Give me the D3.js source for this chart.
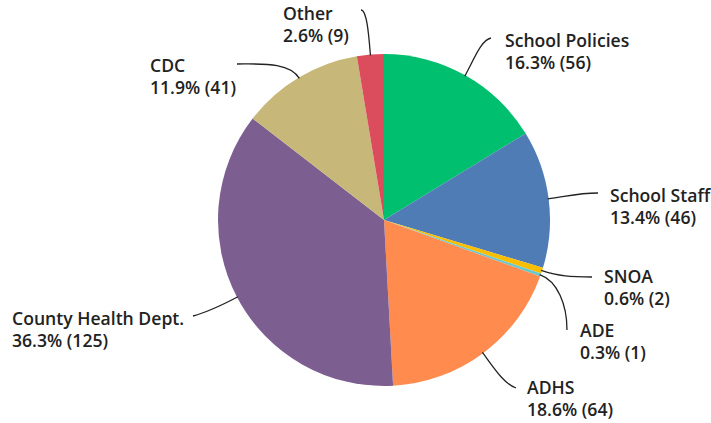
<!DOCTYPE html>
<html>
<head>
<meta charset="utf-8">
<script src="https://cdn.jsdelivr.net/npm/d3@7"></script>
<style>
  body { margin: 0; background: #fff; overflow: hidden; }
  text { font-family: "Open Sans", Roboto, sans-serif; font-weight: 600; fill: #222; }
</style>
</head>
<body>
<svg id="canvas"></svg>
<script>
const width = 711;
const height = 423;

const categories = ["School Policies", "School Staff", "SNOA", "ADE", "ADHS", "County Health Dept.", "CDC", "Other"];
const counts = [56, 46, 2, 1, 64, 125, 41, 9];
const colors = ["#00BF6F", "#507CB6", "#F9BE00", "#6BC8CD", "#FF8B4F", "#7D5E90", "#C7B879", "#DB4D5C"];

// label anchor (text left, first baseline) and leader end / handle, per slice
const labelPos = [[505, 47], [610, 202], [604, 283], [580, 337], [527, 394], [12, 325], [150, 72], [283, 20]];
const leaderEnd = [[491, 38], [598, 193], [592, 277], [567, 330], [516, 388], [193, 316], [237, 64], [361, 10]];
const leaderHandle = [[-10, 2], [-20, 0], [-22, 0], [0, -25], [-12, -4], [15, -4], [25, 0], [6, 0]];

const cx = 384, cy = 220, radius = 166;
const total = d3.sum(counts);

let svg = d3.select("#canvas")
            .attr("width", width)
            .attr("height", height);

const pie = d3.pie().sort(null).value(d => d);
const arcs = pie(counts);
const arc = d3.arc().innerRadius(0).outerRadius(radius);

const g = svg.append("g").attr("transform", `translate(${cx}, ${cy})`);

g.selectAll("path.slice")
 .data(arcs)
 .enter()
 .append("path")
 .attr("class", "slice")
 .attr("d", arc)
 .attr("fill", (d, i) => colors[i]);

// leader lines
const pointAt = (a, r) => [cx + r * Math.sin(a), cy - r * Math.cos(a)];
svg.selectAll("path.leader")
   .data(arcs)
   .enter()
   .append("path")
   .attr("class", "leader")
   .attr("fill", "none")
   .attr("stroke", "#222")
   .attr("stroke-width", 1.3)
   .attr("d", (d, i) => {
       const mid = (d.startAngle + d.endAngle) / 2;
       const p0 = pointAt(mid, radius - 1);
       const p1 = pointAt(mid, radius + 18);
       const e = leaderEnd[i];
       const h = leaderHandle[i];
       const p = d3.path();
       p.moveTo(p0[0], p0[1]);
       p.bezierCurveTo(p1[0], p1[1], e[0] + h[0], e[1] + h[1], e[0], e[1]);
       return p.toString();
   });

// labels
const labels = svg.selectAll("text.label")
   .data(arcs)
   .enter()
   .append("text")
   .attr("class", "label")
   .attr("font-size", 17.6)
   .attr("x", (d, i) => labelPos[i][0])
   .attr("y", (d, i) => labelPos[i][1]);

labels.append("tspan")
      .attr("x", (d, i) => labelPos[i][0])
      .text((d, i) => categories[i]);
labels.append("tspan")
      .attr("x", (d, i) => labelPos[i][0])
      .attr("dy", 21.5)
      .text((d, i) => `${(counts[i] / total * 100).toFixed(1)}% (${counts[i]})`);
</script>
</body>
</html>
